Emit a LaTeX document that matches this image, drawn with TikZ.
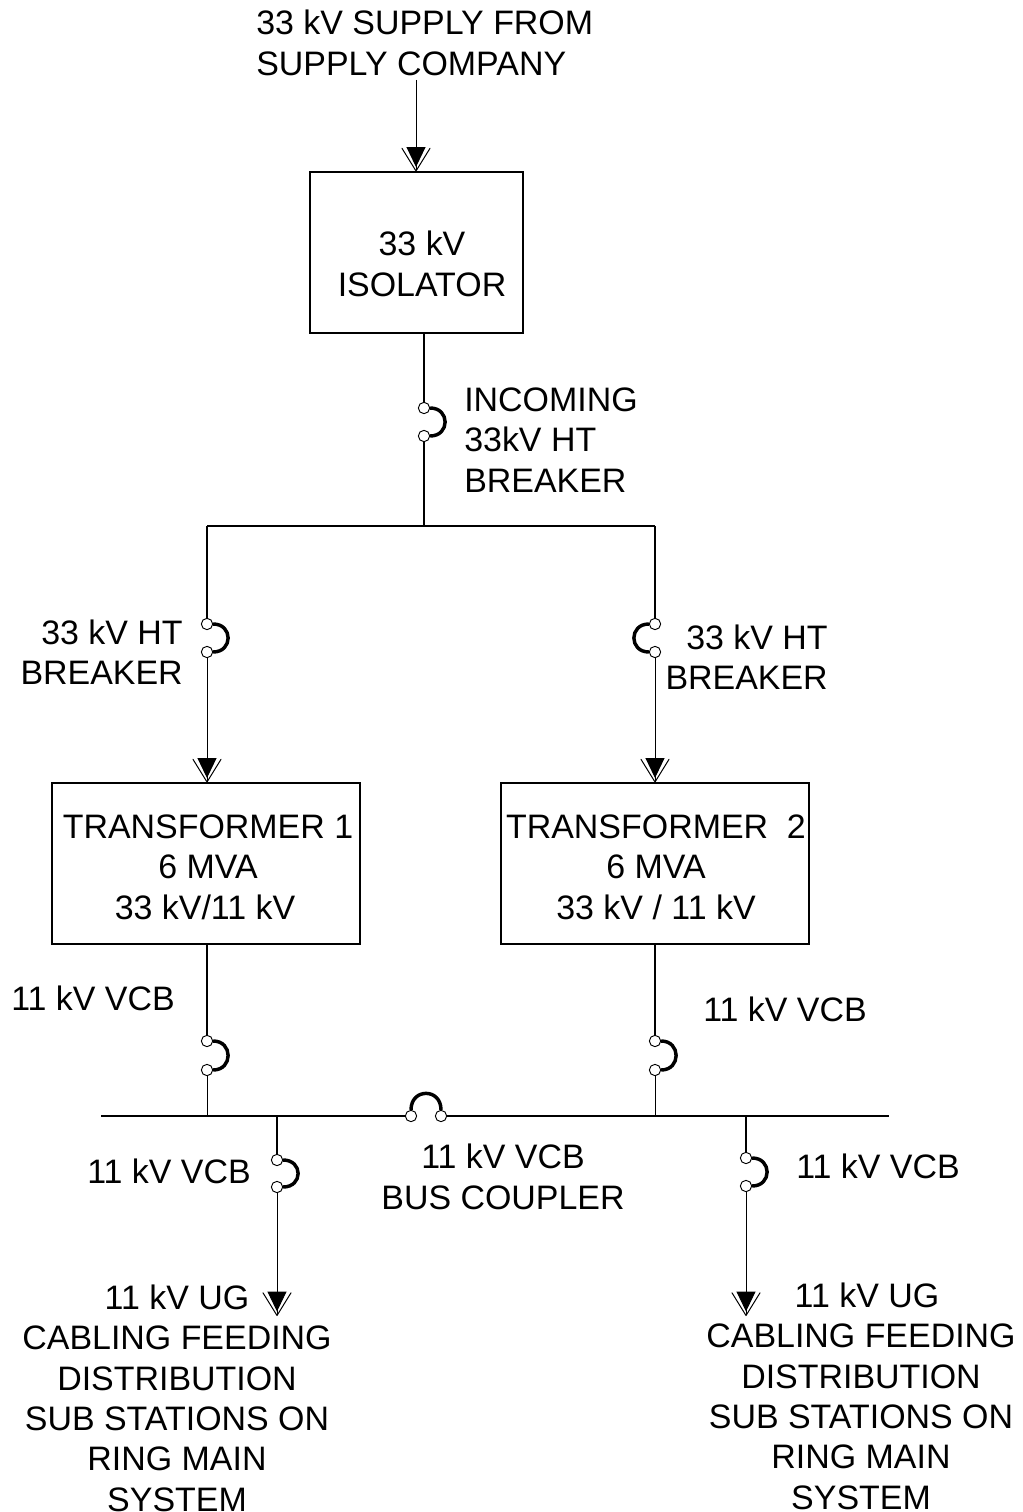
\documentclass[tikz,border=0pt]{standalone}
\usepackage{fontspec}
\setmainfont{Liberation Sans}
\usetikzlibrary{arrows.meta}
\tikzset{
  lbl/.style={inner sep=0pt,font=\fontsize{25.45}{30.45}\selectfont,align=center},
  lbll/.style={lbl,align=left},
  lbld/.style={lbl,font=\fontsize{25.45}{30.3}\selectfont},
  boxn/.style={draw,line width=1.1pt,inner sep=0pt},
  wire/.style={line width=0.9pt},
  feed/.style={line width=0.75pt,-{Triangle[length=15pt,width=14.25pt,sep=-14.4pt]Straight Barb[length=17pt,width=21pt,line width=0.75pt,round=false]}},
  cont/.style={circle,draw,fill=white,line width=0.7pt,minimum size=8.5pt,inner sep=0pt},
  arcb/.style={line width=2.6pt},
}
\begin{document}
\begin{tikzpicture}[x=0.75pt,y=-0.75pt]
\useasboundingbox (0,0) rectangle (1023,1512);
% boxes
\node[boxn,minimum width=159.75pt,minimum height=120.75pt] (iso) at (416.5,252.5) {};
\node[boxn,minimum width=231pt,minimum height=120.75pt] (t1) at (206,863.5) {};
\node[boxn,minimum width=231pt,minimum height=120.75pt] (t2) at (655,863.5) {};
% contacts
\node[cont] (ia) at (424,408) {};
\node[cont] (ib) at (424,436) {};
\node[cont] (la) at (207,624) {};
\node[cont] (lb) at (207,652) {};
\node[cont] (ra) at (655,624) {};
\node[cont] (rb) at (655,652) {};
\node[cont] (va) at (207,1041) {};
\node[cont] (vb) at (207,1070) {};
\node[cont] (wa) at (655,1041) {};
\node[cont] (wb) at (655,1070) {};
\node[cont] (ca) at (411,1116) {};
\node[cont] (cb) at (441,1116) {};
\node[cont] (da) at (277,1160) {};
\node[cont] (db) at (277,1187) {};
\node[cont] (ea) at (746,1158) {};
\node[cont] (eb) at (746,1186) {};
% junctions and free ends
\coordinate (top) at (416,80);
\coordinate (j0) at (424,526);
\coordinate (jl) at (207,526);
\coordinate (jr) at (655,526);
\coordinate (busl) at (101,1116);
\coordinate (busr) at (889,1116);
\coordinate (j1) at (207,1116);
\coordinate (j2) at (655,1116);
\coordinate (j3) at (277,1116);
\coordinate (j4) at (746,1116);
\coordinate (e1) at (277,1316);
\coordinate (e2) at (746,1316);
\coordinate (isob) at (424,333);
\coordinate (t1t) at (207,782.5);
\coordinate (t2t) at (655,782.5);
\coordinate (t1b) at (207,944);
\coordinate (t2b) at (655,944);
\coordinate (isot) at (416,171.5);
% connectors
\draw[feed] (top) -- (isot);
\draw[wire] (isob) -- (ia);
\draw[wire] (ib) -- (j0);
\draw[wire] (jl) -- (jr);
\draw[wire] (jl) -- (la);
\draw[wire] (jr) -- (ra);
\draw[feed] (lb) -- (t1t);
\draw[feed] (rb) -- (t2t);
\draw[wire] (t1b) -- (va);
\draw[wire] (t2b) -- (wa);
\draw[wire,line width=0.6pt] (vb) -- (j1);
\draw[wire,line width=0.6pt] (wb) -- (j2);
\draw[wire] (busl) -- (ca);
\draw[wire] (cb) -- (busr);
\draw[wire] (j3) -- (da);
\draw[wire] (j4) -- (ea);
\draw[feed] (db) -- (e1);
\draw[feed] (eb) -- (e2);
% breaker arcs
\draw[arcb] (ia.east) .. controls +(20,0) and +(20,0) .. (ib.east);
\draw[arcb] (la.east) .. controls +(20,0) and +(20,0) .. (lb.east);
\draw[arcb] (ra.west) .. controls +(-20,0) and +(-20,0) .. (rb.west);
\draw[arcb] (va.east) .. controls +(20,0) and +(20,0) .. (vb.east);
\draw[arcb] (wa.east) .. controls +(20,0) and +(20,0) .. (wb.east);
\draw[arcb] (da.east) .. controls +(20,0) and +(20,0) .. (db.east);
\draw[arcb] (ea.east) .. controls +(20,0) and +(20,0) .. (eb.east);
\draw[arcb] (ca.north) .. controls +(0,-22) and +(0,-22) .. (cb.north);
% labels
\node[lbll,anchor=west] (l1) at (256,43) {33 kV SUPPLY FROM\\SUPPLY COMPANY};
\node[lbl] (l2) at (422,264) {33 kV\\ISOLATOR};
\node[lbll,anchor=west] (l3) at (464,440) {INCOMING\\33kV HT\\BREAKER};
\node[lbl,align=right,anchor=east] (l4) at (183,652) {33 kV HT\\BREAKER};
\node[lbl,align=right,anchor=east] (l5) at (828,657) {33 kV HT\\BREAKER};
\node[lbl] (l6) at (208,867) {TRANSFORMER 1\\6 MVA\hspace*{4.5pt}\\33 kV/11 kV\hspace*{4.5pt}};
\node[lbl] (l7) at (656,867) {TRANSFORMER~~2\\6 MVA\hspace*{1.5pt}\\33 kV / 11 kV};
\node[lbl,anchor=west] (l8) at (11,998) {11 kV VCB};
\node[lbl,anchor=west] (l9) at (703,1009) {11 kV VCB};
\node[lbl,anchor=west] (l10) at (87,1171) {11 kV VCB};
\node[lbl] (l11) at (503,1177) {11 kV VCB\\BUS COUPLER};
\node[lbl,anchor=west] (l12) at (796,1166) {11 kV VCB};
\node[lbld,anchor=north] (l13) at (177,1284.5) {11 kV UG\\CABLING FEEDING\\DISTRIBUTION\\SUB STATIONS ON\\RING MAIN\\SYSTEM};
\node[lbld,anchor=north] (l14) at (861,1282.5) {\hspace*{9pt}11 kV UG\\CABLING FEEDING\\DISTRIBUTION\\SUB STATIONS ON\\RING MAIN\\SYSTEM};
\end{tikzpicture}
\end{document}
